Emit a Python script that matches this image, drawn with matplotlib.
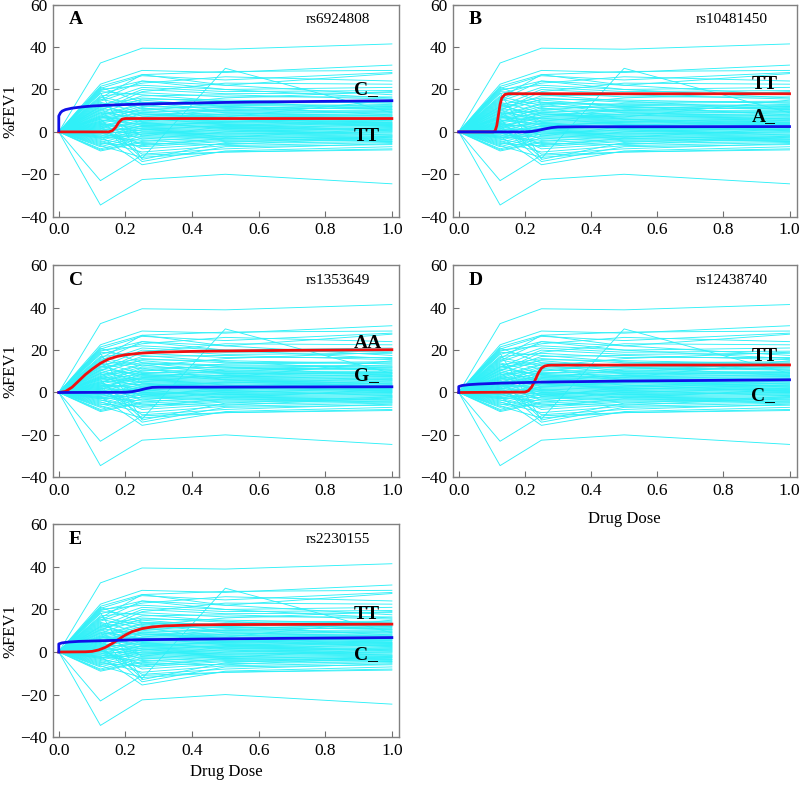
import matplotlib
matplotlib.use('Agg')
import matplotlib.pyplot as plt
import numpy as np

plt.rcParams['font.family'] = ['Liberation Serif', 'DejaVu Serif']

# dose levels of the individual profiles
doses = [0.0, 0.125, 0.25, 0.5, 1.0]

# %FEV1 at doses 0.125, 0.25, 0.5, 1.0 for each subject (value at dose 0 is 0)
subjects = [
    [32.5, 39.5, 39.0, 41.5],
    [-34.5, -22.5, -20.0, -24.5],
    [-23.0, -11.0, -9.5, -8.5],
    [6.0, -12.5, 30.0, 9.0],
    [22.5, 29.0, 28.0, 31.5],
    [21.5, 27.0, 28.5, 29.0],
    [20.5, 26.5, 24.5, 28.0],
    [19.5, 24.0, 22.0, 27.5],
    [18.0, 23.0, 26.0, 24.0],
    [16.0, 27.0, 22.0, 17.5],
    [20.0, 22.0, 20.0, 21.0],
    [14.5, 21.0, 19.0, 19.5],
    [12.0, 20.0, 18.0, 18.5],
    [17.0, 18.5, 16.5, 16.5],
    [10.5, 17.0, 17.5, 15.5],
    [13.0, 16.0, 14.0, 14.5],
    [9.0, 15.5, 15.0, 13.5],
    [11.5, 14.0, 13.0, 12.5],
    [8.0, 13.5, 12.5, 12.0],
    [7.0, 12.0, 11.5, 11.0],
    [15.5, 11.0, 12.0, 10.5],
    [6.5, 10.5, 10.0, 10.0],
    [5.0, 9.5, 9.5, 9.5],
    [4.0, 8.0, 9.0, 9.0],
    [12.5, 7.5, 8.0, 8.5],
    [3.0, 7.0, 7.5, 8.0],
    [2.5, 6.5, 7.0, 7.5],
    [9.5, 6.0, 6.5, 7.0],
    [1.5, 5.5, 6.0, 6.5],
    [0.5, 5.0, 5.5, 6.0],
    [7.5, 4.5, 5.0, 5.5],
    [-1.0, 4.0, 4.5, 5.0],
    [5.5, 3.5, 4.0, 4.5],
    [-2.0, 3.0, 3.5, 4.0],
    [3.5, 2.5, 3.0, 3.5],
    [-3.0, 2.0, 2.5, 3.0],
    [1.0, 1.5, 2.0, 2.5],
    [-4.0, 1.0, 1.5, 2.0],
    [2.0, 0.5, 1.0, 1.5],
    [-5.0, 0.0, 0.5, 1.0],
    [0.0, -0.5, 0.0, 0.5],
    [-6.0, -1.0, -0.5, 0.0],
    [4.5, -1.5, -1.0, -0.5],
    [-7.0, -2.0, -1.5, -1.0],
    [-1.5, -2.5, -2.0, -1.5],
    [-8.0, -3.0, -2.5, -2.0],
    [-2.5, -4.0, -3.0, -2.5],
    [-9.0, -5.0, -3.5, -3.0],
    [-0.5, -6.0, -4.0, -3.5],
    [-3.5, -7.0, -4.5, -4.0],
    [1.0, -8.0, -5.5, -4.5],
    [-4.5, -9.5, -6.5, -5.0],
    [2.0, -10.5, -8.0, -5.5],
    [-6.5, -12.0, -9.5, -8.0],
    [-2.0, -15.5, -9.0, -7.0],
    [3.0, -14.0, -7.0, -6.0],
    [18.5, -13.0, -5.0, -2.0],
    [21.0, 14.0, 10.0, 12.0],
    [16.5, 12.5, 16.0, 19.0],
    [10.0, 19.0, 23.0, 22.5],
    [14.0, 9.0, 11.0, 13.0],
    [8.5, 10.0, 13.5, 14.0],
    [11.0, 8.5, 7.0, 15.0],
    [6.0, 7.0, 10.5, 11.5],
    [13.5, 5.0, 8.5, 9.5],
    [4.5, 11.5, 6.0, 4.0],
    [7.0, 3.0, 4.5, 6.5],
    [2.5, 4.0, 2.0, 1.0],
    [0.0, 2.5, 5.0, 3.0],
    [-1.0, 1.0, 3.0, 5.5],
    [3.5, -3.5, 0.0, 2.0],
    [-3.0, -1.0, 1.0, -1.5],
    [5.0, 6.5, 3.5, 0.5],
    [-5.5, -6.5, -3.0, -4.5],
    [9.0, -2.0, 2.5, 4.5],
    [12.0, 15.0, 12.0, 8.0],
    [19.0, 17.5, 14.5, 10.5],
    [15.0, 24.0, 20.0, 16.0],
    [7.5, 13.0, 9.0, 7.5],
    [-8.5, -4.5, -2.0, -3.5],
    [1.5, 9.0, 8.0, 6.0],
    [10.5, 4.5, 1.5, 3.5],
    [-2.5, 0.0, -1.0, 0.0],
    [6.5, 8.5, 6.0, 2.5],
    [0.5, -5.5, -6.0, -2.5],
    [4.0, 1.5, -2.5, 1.5],
]

letters = ['A', 'B', 'C', 'D', 'E']
snps = ['rs6924808', 'rs10481450', 'rs1353649', 'rs12438740', 'rs2230155']
red_labels = ['TT', 'TT', 'AA', 'TT', 'TT']
blue_labels = ['C_', 'A_', 'G_', 'C_', 'C_']
red_label_y = [-2.0, 22.2, 23.1, 17.1, 17.7]
blue_label_y = [20.0, 7.3, 7.9, -1.2, -1.1]

# fitted genotype curves
red_x = [
    [0, 0.15, 0.16, 0.17, 0.18, 0.19, 0.2, 1.0],
    [0, 0.105, 0.11, 0.115, 0.12, 0.125, 0.13, 0.14, 0.15, 1.0],
    [0, 0.02, 0.04, 0.06, 0.08, 0.1, 0.125, 0.15, 0.175, 0.2, 0.25, 0.3, 0.4, 0.5, 0.7, 1.0],
    [0, 0.2, 0.21, 0.22, 0.23, 0.24, 0.25, 0.26, 0.27, 0.28, 1.0],
    [0, 0.08, 0.1, 0.12, 0.14, 0.16, 0.18, 0.2, 0.22, 0.25, 0.28, 0.32, 0.4, 0.5, 1.0],
]
red_y = [
    [0, 0, 0.5, 2.0, 4.5, 6.0, 6.3, 6.3],
    [0, 0, 0.5, 3.0, 8.0, 13.0, 16.0, 17.7, 18.0, 18.0],
    [0, 0.5, 2.5, 5.5, 8.5, 11.0, 13.8, 15.8, 17.0, 17.8, 18.6, 19.0, 19.4, 19.6, 19.9, 20.2],
    [0, 0.2, 0.8, 2.5, 5.5, 9.0, 11.5, 12.5, 12.8, 12.9, 13.0],
    [0, 0.1, 0.3, 1.0, 2.2, 4.0, 6.0, 8.0, 9.6, 11.0, 11.8, 12.3, 12.7, 12.9, 13.1],
]
blue_x = [
    [0, 0, 0.005, 0.01, 0.02, 0.04, 0.07, 0.1, 0.15, 0.2, 0.3, 0.4, 0.5, 0.6, 0.8, 1.0],
    [0, 0.2, 0.22, 0.24, 0.26, 0.28, 0.3, 0.35, 1.0],
    [0, 0.2, 0.22, 0.24, 0.26, 0.28, 0.3, 1.0],
    [0, 0, 0.01, 0.03, 0.06, 0.125, 0.25, 0.5, 0.75, 1.0],
    [0, 0, 0.01, 0.03, 0.06, 0.125, 0.25, 0.5, 0.75, 1.0],
]
blue_y = [
    [0.5, 7.5, 9.0, 9.8, 10.5, 11.2, 11.8, 12.2, 12.6, 12.9, 13.3, 13.6, 13.9, 14.1, 14.4, 14.7],
    [0, 0, 0.2, 0.7, 1.4, 2.0, 2.3, 2.4, 2.5],
    [0, 0.1, 0.4, 1.0, 1.8, 2.4, 2.5, 2.7],
    [0, 2.8, 3.3, 3.7, 4.0, 4.4, 4.9, 5.4, 5.7, 6.0],
    [0, 3.8, 4.3, 4.7, 5.0, 5.3, 5.8, 6.2, 6.5, 6.8],
]

fig = plt.figure(figsize=(8, 7.85), dpi=100)

# axes boxes in figure fractions: left, bottom, width, height
boxes = [
    [0.066, 0.724, 0.433, 0.270],
    [0.566, 0.724, 0.430, 0.270],
    [0.066, 0.392, 0.433, 0.270],
    [0.566, 0.392, 0.430, 0.270],
    [0.066, 0.061, 0.433, 0.271],
]
xlabel_pad = {3: 9, 4: 4}

for i in range(5):
    ax = fig.add_axes(boxes[i])
    for s in subjects:
        ax.plot(doses, [0.0] + s, color='#30F0F8', lw=0.65, zorder=1)
    ax.plot(red_x[i], red_y[i], color='#F01010', lw=2, zorder=3)
    ax.plot(blue_x[i], blue_y[i], color='#1010E8', lw=2, zorder=3)

    ax.set_xlim(-0.018, 1.022)
    ax.set_ylim(-40, 60)
    ax.set_xticks(np.arange(0, 1.01, 0.2))
    ax.set_xticklabels(['%.1f' % v for v in np.arange(0, 1.01, 0.2)])
    ax.set_yticks(range(-40, 61, 20))
    ax.set_yticklabels(['\u221240', '\u221220', '0', '20', '40', '60'])
    ax.tick_params(direction='in', length=4, width=0.8, color='#707070',
                   labelsize=12.5, pad=4)
    for sp in ax.spines.values():
        sp.set_color('#808080')
        sp.set_linewidth(1.0)

    ax.text(0.03, 53, letters[i], fontsize=14, fontweight='bold', va='center', ha='left')
    ax.text(0.935, 53, snps[i], fontsize=11, va='center', ha='right')
    ax.text(0.885, red_label_y[i], red_labels[i], fontsize=14, fontweight='bold',
            va='center', ha='left')
    ax.text(0.885, blue_label_y[i], blue_labels[i], fontsize=14, fontweight='bold',
            va='center', ha='left')

    if i in (0, 2, 4):
        ax.set_ylabel('%FEV1', fontsize=12, labelpad=1)
    if i in (3, 4):
        ax.set_xlabel('Drug Dose', fontsize=12, labelpad=xlabel_pad[i])

fig.savefig('out.png', dpi=100)
